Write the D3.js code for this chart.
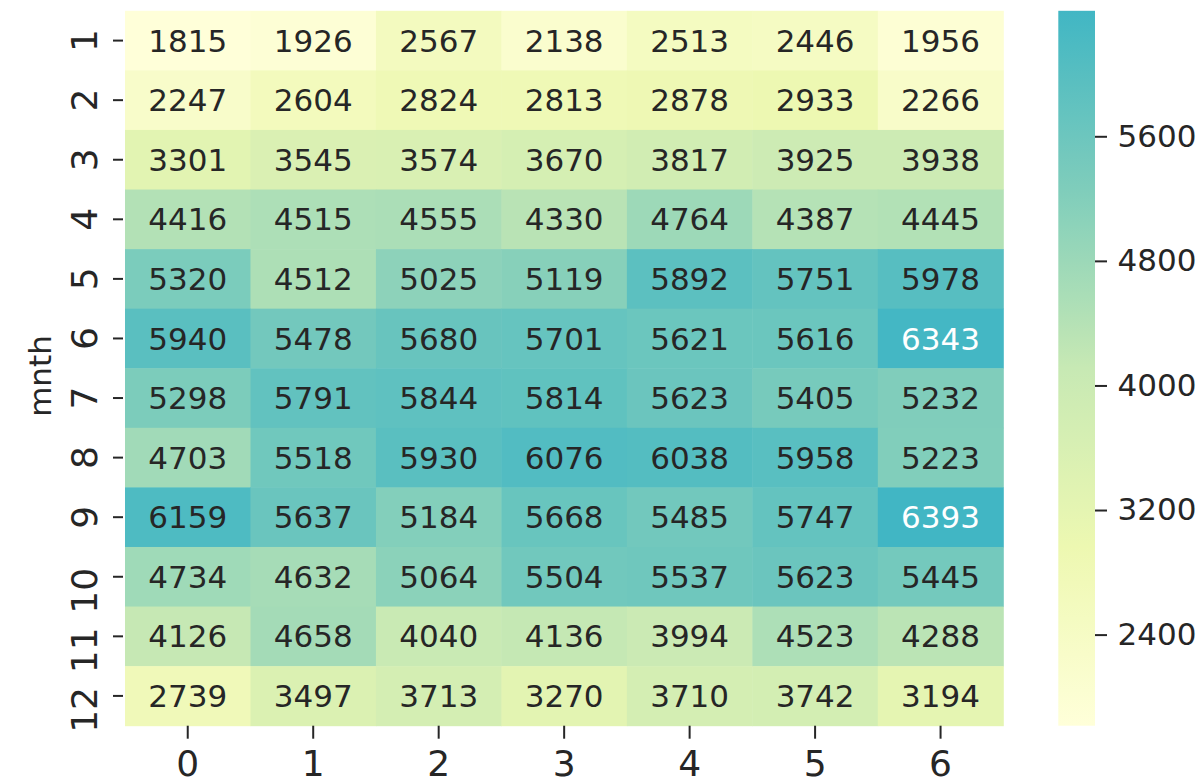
<!DOCTYPE html>
<html>
<head>
<meta charset="utf-8">
<script src="https://cdn.jsdelivr.net/npm/d3@7"></script>
<style>
  body { margin: 0; background: #fff; }
  svg { display: block; font-family: "DejaVu Sans", sans-serif; }
</style>
</head>
<body>
<svg width="1203" height="777"></svg>
<script>
// rides per month (rows) and weekday (columns)
var months = ["1", "2", "3", "4", "5", "6", "7", "8", "9", "10", "11", "12"];
var weekdays = ["0", "1", "2", "3", "4", "5", "6"];
var rides = [
  [1815, 1926, 2567, 2138, 2513, 2446, 1956],
  [2247, 2604, 2824, 2813, 2878, 2933, 2266],
  [3301, 3545, 3574, 3670, 3817, 3925, 3938],
  [4416, 4515, 4555, 4330, 4764, 4387, 4445],
  [5320, 4512, 5025, 5119, 5892, 5751, 5978],
  [5940, 5478, 5680, 5701, 5621, 5616, 6343],
  [5298, 5791, 5844, 5814, 5623, 5405, 5232],
  [4703, 5518, 5930, 6076, 6038, 5958, 5223],
  [6159, 5637, 5184, 5668, 5485, 5747, 6393],
  [4734, 4632, 5064, 5504, 5537, 5623, 5445],
  [4126, 4658, 4040, 4136, 3994, 4523, 4288],
  [2739, 3497, 3713, 3270, 3710, 3742, 3194]
];
var cbTicks = [2400, 3200, 4000, 4800, 5600];

var svg = d3.select("svg");

var mLeft = 125, mTop = 10.8, mRight = 1003.3, mBottom = 725.7;
var cbLeft = 1058.3, cbRight = 1095;
var ink = "#262626";

var cells = [];
rides.forEach(function(row, i) {
  row.forEach(function(v, j) {
    cells.push({ month: months[i], day: weekdays[j], value: v });
  });
});

var vmin = d3.min(cells, function(d) { return d.value; }),
    vmax = d3.max(cells, function(d) { return d.value; });

var x = d3.scaleBand().domain(weekdays).range([mLeft, mRight]);
var y = d3.scaleBand().domain(months).range([mTop, mBottom]);

// lower half of YlGnBu
var stops = d3.schemeYlGnBu[9].slice(0, 5);
var color = d3.scaleLinear()
    .domain(stops.map(function(c, i) { return vmin + (vmax - vmin) * i / (stops.length - 1); }))
    .range(stops)
    .interpolate(d3.interpolateRgb);

function luminance(c) {
  var rgb = d3.rgb(c);
  var ch = [rgb.r, rgb.g, rgb.b].map(function(v) {
    v = v / 255;
    return v <= 0.03928 ? v / 12.92 : Math.pow((v + 0.055) / 1.055, 2.4);
  });
  return 0.2126 * ch[0] + 0.7152 * ch[1] + 0.0722 * ch[2];
}

svg.append("g")
  .selectAll("rect")
  .data(cells)
  .enter().append("rect")
    .attr("x", function(d) { return x(d.day); })
    .attr("y", function(d) { return y(d.month); })
    .attr("width", x.bandwidth() + 0.5)
    .attr("height", y.bandwidth() + 0.5)
    .attr("fill", function(d) { return color(d.value); });

svg.append("g")
  .selectAll("text")
  .data(cells)
  .enter().append("text")
    .attr("x", function(d) { return x(d.day) + x.bandwidth() / 2; })
    .attr("y", function(d) { return y(d.month) + y.bandwidth() / 2; })
    .attr("dy", "0.36em")
    .attr("text-anchor", "middle")
    .attr("font-size", 31)
    .attr("fill", function(d) { return luminance(color(d.value)) > 0.408 ? ink : "#fff"; })
    .text(function(d) { return d.value; });

// axes
var yAxis = svg.append("g")
    .attr("transform", "translate(" + mLeft + ",0)")
    .call(d3.axisLeft(y).tickSize(10));
yAxis.select(".domain").remove();
yAxis.selectAll("line").attr("stroke", ink).attr("stroke-width", 2).attr("transform", "translate(-2,0)");
// rotated labels: two-digit ones sit a little below their tick, as in matplotlib
yAxis.selectAll("text")
    .attr("x", function(d) { return d.length > 1 ? -14 : 0; })
    .attr("y", -28).attr("dy", null)
    .attr("transform", "rotate(-90)")
    .attr("text-anchor", "middle")
    .attr("font-size", 36)
    .attr("font-family", "DejaVu Sans")
    .attr("fill", ink);

var xAxis = svg.append("g")
    .attr("transform", "translate(0," + mBottom + ")")
    .call(d3.axisBottom(x).tickSize(13));
xAxis.select(".domain").remove();
xAxis.selectAll("line").attr("stroke", ink).attr("stroke-width", 2);
xAxis.selectAll("text")
    .attr("y", 50).attr("dy", null)
    .attr("font-size", 36)
    .attr("font-family", "DejaVu Sans")
    .attr("fill", ink);

svg.append("text")
    .attr("transform", "translate(51,376) rotate(-90)")
    .attr("text-anchor", "middle")
    .attr("font-size", 31)
    .attr("fill", ink)
    .text("mnth");

// colorbar
var cb = d3.scaleLinear().domain([vmin, vmax]).range([mBottom, mTop + 2]);

var grad = svg.append("defs").append("linearGradient")
    .attr("id", "cbgrad")
    .attr("x1", 0).attr("y1", 1).attr("x2", 0).attr("y2", 0);
grad.selectAll("stop")
  .data(d3.range(0, 1.0001, 0.05))
  .enter().append("stop")
    .attr("offset", function(t) { return t; })
    .attr("stop-color", function(t) { return color(vmin + t * (vmax - vmin)); });

svg.append("rect")
    .attr("x", cbLeft)
    .attr("y", mTop)
    .attr("width", cbRight - cbLeft)
    .attr("height", mBottom - mTop)
    .attr("fill", "url(#cbgrad)");

var cbAxis = svg.append("g")
    .attr("transform", "translate(" + cbRight + ",0)")
    .call(d3.axisRight(cb).tickValues(cbTicks).tickSize(12).tickPadding(10.5).tickFormat(d3.format("d")));
cbAxis.select(".domain").remove();
cbAxis.selectAll("line").attr("stroke", ink).attr("stroke-width", 2);
cbAxis.selectAll("text")
    .attr("font-size", 31)
    .attr("font-family", "DejaVu Sans")
    .attr("fill", ink);
</script>
</body>
</html>
